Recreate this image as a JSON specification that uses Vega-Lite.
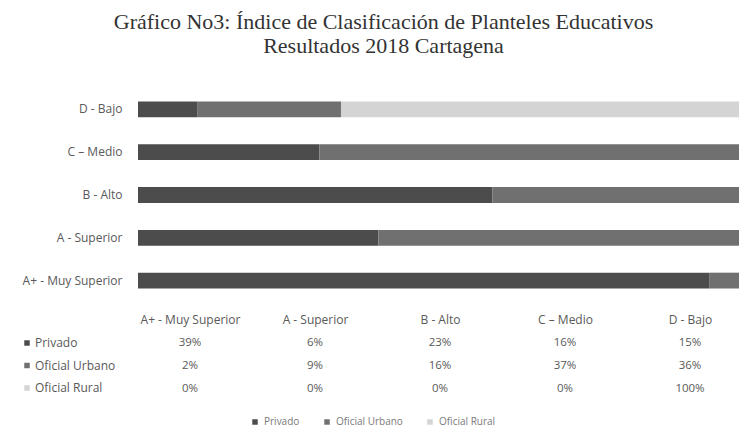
{
  "$schema": "https://vega.github.io/schema/vega-lite/v6.json",
  "background": "white",
  "padding": {"left": 21, "top": 11, "right": 0, "bottom": 0},
  "title": {
    "text": ["Gráfico No3: Índice de Clasificación de Planteles Educativos", "Resultados 2018 Cartagena"],
    "font": "Liberation Serif",
    "fontSize": 22,
    "fontWeight": "normal",
    "color": "#333333",
    "anchor": "middle",
    "frame": "bounds",
    "lineHeight": 24,
    "offset": 30,
    "dx": 2
  },
  "config": {
    "view": {"stroke": null},
    "font": "Open Sans"
  },
  "datasets": {
    "d": [
      {"nivel": "A+ - Muy Superior", "serie": "Privado", "valor": 0.39},
      {"nivel": "A+ - Muy Superior", "serie": "Oficial Urbano", "valor": 0.02},
      {"nivel": "A+ - Muy Superior", "serie": "Oficial Rural", "valor": 0},
      {"nivel": "A - Superior", "serie": "Privado", "valor": 0.06},
      {"nivel": "A - Superior", "serie": "Oficial Urbano", "valor": 0.09},
      {"nivel": "A - Superior", "serie": "Oficial Rural", "valor": 0},
      {"nivel": "B - Alto", "serie": "Privado", "valor": 0.23},
      {"nivel": "B - Alto", "serie": "Oficial Urbano", "valor": 0.16},
      {"nivel": "B - Alto", "serie": "Oficial Rural", "valor": 0},
      {"nivel": "C – Medio", "serie": "Privado", "valor": 0.16},
      {"nivel": "C – Medio", "serie": "Oficial Urbano", "valor": 0.37},
      {"nivel": "C – Medio", "serie": "Oficial Rural", "valor": 0},
      {"nivel": "D - Bajo", "serie": "Privado", "valor": 0.15},
      {"nivel": "D - Bajo", "serie": "Oficial Urbano", "valor": 0.36},
      {"nivel": "D - Bajo", "serie": "Oficial Rural", "valor": 1.0}
    ]
  },
  "data": {"name": "d"},
  "bounds": "flush",
  "spacing": 30,
  "resolve": {"legend": {"color": "independent"}},
  "vconcat": [
    {
      "width": 601,
      "height": 214,
      "mark": {"type": "bar"},
      "encoding": {
        "y": {
          "field": "nivel",
          "type": "nominal",
          "sort": ["D - Bajo", "C – Medio", "B - Alto", "A - Superior", "A+ - Muy Superior"],
          "scale": {"paddingInner": 0.63, "paddingOuter": 0.315},
          "axis": {"title": null, "domain": false, "ticks": false, "labelPadding": 16, "labelFont": "Open Sans", "labelFontSize": 12, "labelColor": "#595959"}
        },
        "x": {
          "field": "valor",
          "type": "quantitative",
          "stack": "normalize",
          "axis": null
        },
        "order": {"field": "serie", "sort": "descending"},
        "color": {
          "field": "serie",
          "type": "nominal",
          "scale": {"domain": ["Privado", "Oficial Urbano", "Oficial Rural"], "range": ["#4c4c4c", "#707070", "#d4d4d4"]},
          "legend": {
            "title": null,
            "orient": "none",
            "direction": "horizontal",
            "legendX": 112,
            "legendY": 329,
            "symbolType": "square",
            "symbolSize": 30,
            "labelFont": "Open Sans",
            "labelFontSize": 10,
            "labelColor": "#7a7a7a",
            "columnPadding": 22
          }
        }
      }
    },
    {
      "width": 604,
      "height": 68,
      "layer": [
        {
          "mark": {"type": "text", "font": "Open Sans", "fontSize": 11.5, "color": "#595959"},
          "encoding": {
            "x": {
              "field": "nivel",
              "type": "nominal",
              "sort": ["A+ - Muy Superior", "A - Superior", "B - Alto", "C – Medio", "D - Bajo"],
              "scale": {"type": "point", "padding": 0.416},
              "axis": {"orient": "top", "title": null, "domain": false, "ticks": false, "labelPadding": 6, "labelAngle": 0, "labelFont": "Open Sans", "labelFontSize": 12, "labelColor": "#595959"}
            },
            "y": {
              "field": "serie",
              "type": "nominal",
              "sort": ["Privado", "Oficial Urbano", "Oficial Rural"],
              "scale": {"type": "point", "padding": 0.5},
              "axis": null
            },
            "text": {"field": "valor", "type": "quantitative", "format": ".0%"}
          }
        },
        {
          "mark": {"type": "point", "opacity": 0, "filled": true, "shape": "square"},
          "encoding": {
            "x": {"field": "nivel", "type": "nominal", "sort": ["A+ - Muy Superior", "A - Superior", "B - Alto", "C – Medio", "D - Bajo"]},
            "y": {"field": "serie", "type": "nominal", "sort": ["Privado", "Oficial Urbano", "Oficial Rural"]},
            "color": {
              "field": "serie",
              "type": "nominal",
              "legend": {
                "title": null,
                "orient": "none",
                "direction": "vertical",
                "legendX": -117,
                "legendY": 5,
                "symbolType": "square",
                "symbolSize": 30,
                "symbolOpacity": 1,
                "symbolStrokeWidth": 0,
                "labelOffset": 2,
                "labelFont": "Open Sans",
                "labelFontSize": 12,
                "labelColor": "#595959",
                "rowPadding": 10.5
              }
            }
          }
        }
      ]
    }
  ]
}
